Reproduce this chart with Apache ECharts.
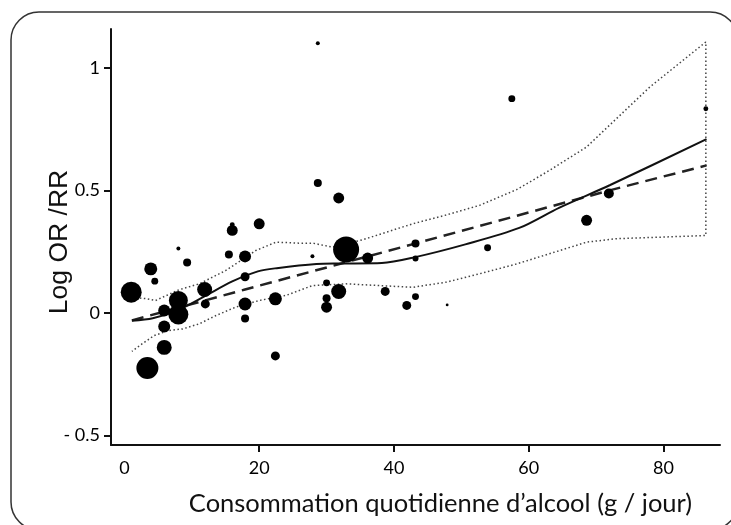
<!DOCTYPE html>
<html>
<head>
<meta charset="utf-8">
<script src="https://cdn.jsdelivr.net/npm/echarts@6/dist/echarts.min.js"></script>
<style>
  html, body { margin: 0; padding: 0; background: #fff; }
  #main { width: 731px; height: 525px; }
</style>
</head>
<body>
<div id="main"></div>
<script>
// études : consommation (g/jour), log OR/RR, poids de l'étude
var doseX = [1.0, 3.9, 4.5, 8.0, 9.3, 16.0, 16.0, 20.0, 15.5, 17.9, 17.9, 11.9, 12.0, 8.0, 8.0,
  5.9, 5.9, 5.9, 3.4, 17.9, 17.9, 22.4, 22.4, 28.7, 31.8, 32.9, 36.1, 27.9, 43.2, 43.2,
  30.0, 31.8, 30.0, 30.0, 38.7, 43.2, 41.9, 47.9, 28.7, 57.5, 86.3, 68.6, 71.9, 53.9];
var logRR = [0.085, 0.18, 0.13, 0.263, 0.206, 0.337, 0.36, 0.364, 0.239, 0.231, 0.148, 0.096, 0.037, 0.051, -0.006,
  0.01, -0.055, -0.14, -0.224, 0.037, -0.022, 0.058, -0.175, 0.53, 0.469, 0.259, 0.224, 0.232, 0.284, 0.222,
  0.123, 0.088, 0.06, 0.024, 0.088, 0.067, 0.031, 0.033, 1.10, 0.874, 0.833, 0.378, 0.487, 0.266];
var poids = [110, 42, 12, 4, 16, 30, 6, 30, 16, 36, 20, 56, 20, 90, 100,
  36, 36, 56, 121, 42, 16, 42, 20, 16, 30, 169, 30, 4, 16, 9,
  12, 56, 16, 30, 20, 12, 20, 2, 4, 12, 6, 30, 25, 12];

// courbe non linéaire (trait plein)
var courbeX = [1.1, 4.2, 8.0, 11.8, 16.0, 19.8, 22.6, 28.5, 31.9, 38.2, 43.0, 50.6, 58.6, 64.5, 72.1, 86.4];
var courbeY = [-0.031, -0.021, 0.013, 0.067, 0.129, 0.17, 0.183, 0.2, 0.202, 0.204, 0.227, 0.28, 0.347, 0.429, 0.522, 0.709];

// modèle linéaire (tirets)
var lineaireX = [1.1, 17.9, 43.0, 72.0, 86.4];
var lineaireY = [-0.03, 0.096, 0.282, 0.5, 0.602];

// intervalle de confiance (pointillés)
var icHautX = [1.1, 3.4, 4.6, 8.1, 11.1, 15.0, 16.5, 19.5, 22.5, 25.9, 27.9, 30.9, 35.4, 42.8, 47.8, 52.7, 58.2, 63.0, 68.6, 78.0, 86.3];
var icHautY = [0.064, 0.058, 0.051, 0.095, 0.119, 0.173, 0.2, 0.255, 0.289, 0.285, 0.285, 0.269, 0.299, 0.364, 0.4, 0.439, 0.503, 0.58, 0.677, 0.922, 1.105];
var icBasX = [1.1, 2.6, 4.4, 6.6, 8.6, 11.1, 13.6, 16.5, 20.0, 24.0, 27.9, 32.9, 37.8, 42.8, 47.8, 52.7, 58.2, 68.6, 73.0, 86.3];
var icBasY = [-0.156, -0.126, -0.092, -0.071, -0.065, -0.044, -0.01, 0.024, 0.051, 0.072, 0.112, 0.119, 0.112, 0.105, 0.126, 0.16, 0.2, 0.289, 0.303, 0.316];

var xTicks = [0, 20, 40, 60, 80];
var yTicks = [-0.5, 0, 0.5, 1];

var etudes = doseX.map(function (x, i) { return [x, logRR[i], poids[i]]; });
var courbe = courbeX.map(function (x, i) { return [x, courbeY[i]]; });
var lineaire = lineaireX.map(function (x, i) { return [x, lineaireY[i]]; });
// contour fermé : borne haute puis borne basse à rebours
var ic = icHautX.map(function (x, i) { return [x, icHautY[i]]; });
for (var k = icBasX.length - 1; k >= 0; k--) ic.push([icBasX[k], icBasY[k]]);

var chart = echarts.init(document.getElementById('main'));
chart.setOption({
  animation: false,
  grid: { left: 111, right: 11, top: 29, bottom: 80 },
  graphic: [{
    type: 'rect',
    shape: { x: 11, y: 12, width: 727, height: 518, r: 28 },
    style: { fill: 'none', stroke: '#333', lineWidth: 1.5 },
    silent: true
  }],
  xAxis: {
    type: 'value',
    min: -2.0,
    max: 88.4,
    splitLine: { show: false },
    axisLine: { onZero: false, lineStyle: { color: '#111', width: 2 } },
    axisTick: { customValues: xTicks.slice(1), length: 7, lineStyle: { color: '#111', width: 2 } },
    axisLabel: { customValues: xTicks, margin: 14, fontFamily: 'Lato', fontSize: 18, color: '#000' },
    name: 'Consommation quotidienne d\u2019alcool (g / jour)',
    nameLocation: 'middle',
    nameGap: 46,
    nameMoveOverlap: false,
    nameTextStyle: { fontFamily: 'Lato', fontSize: 25.5, color: '#111', padding: [0, 0, 0, 50] }
  },
  yAxis: {
    type: 'value',
    min: -0.538,
    max: 1.158,
    splitLine: { show: false },
    axisLine: { onZero: false, lineStyle: { color: '#111', width: 2 } },
    axisTick: { customValues: yTicks, length: 7, lineStyle: { color: '#111', width: 2 } },
    axisLabel: {
      customValues: yTicks, margin: 11, fontFamily: 'Lato', fontSize: 18, color: '#000',
      formatter: function (v) { return v < 0 ? '- ' + Math.abs(v) : String(v); }
    },
    name: 'Log OR /RR',
    nameLocation: 'middle',
    nameGap: 38,
    nameMoveOverlap: false,
    nameTextStyle: { fontFamily: 'Liberation Sans', fontSize: 26.5, color: '#111', padding: [0, 10, 0, 0] }
  },
  series: [
    {
      name: 'IC 95%',
      type: 'line',
      data: ic,
      symbol: 'none',
      lineStyle: { color: '#444', width: 1.5, type: [1.5, 2.5] }
    },
    {
      name: 'Linéaire',
      type: 'line',
      data: lineaire,
      symbol: 'none',
      lineStyle: { color: '#222', width: 2.5, type: [12, 7] }
    },
    {
      name: 'Non linéaire',
      type: 'line',
      data: courbe,
      symbol: 'none',
      smooth: 0.3,
      lineStyle: { color: '#111', width: 2 }
    },
    {
      name: 'Études',
      type: 'scatter',
      data: etudes,
      symbolSize: function (d) { return 2 * Math.sqrt(d[2]); },
      itemStyle: { color: '#000', opacity: 1 },
      z: 5
    }
  ]
});
</script>
</body>
</html>
